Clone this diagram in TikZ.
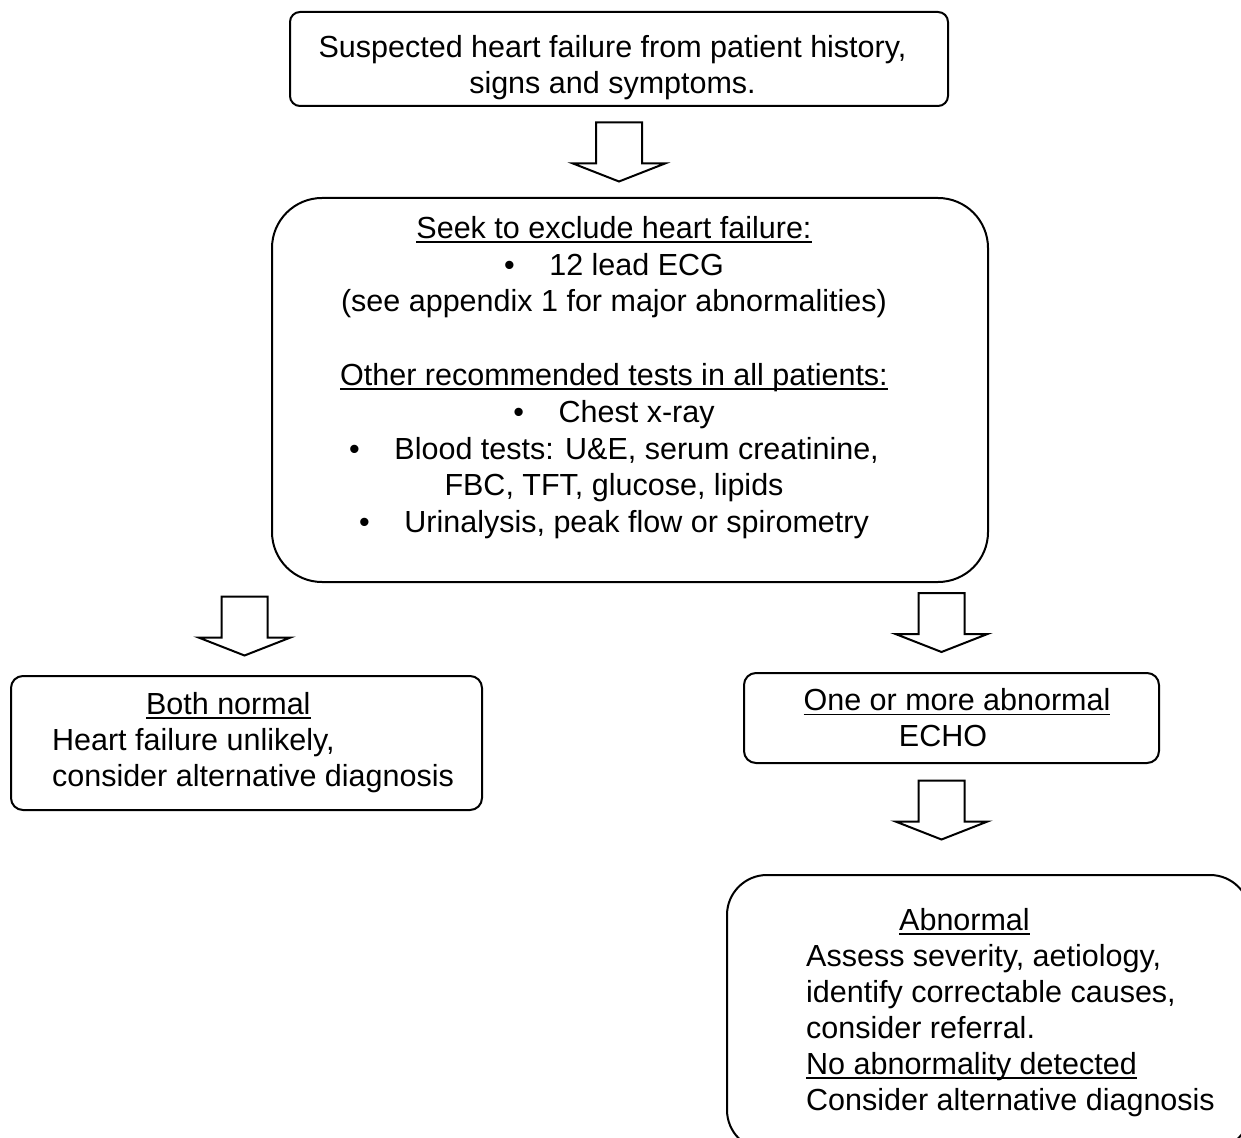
\documentclass[tikz,border=0pt]{standalone}
\usepackage{fontspec}
\setmainfont{Liberation Sans}
\usetikzlibrary{calc}

\newsavebox{\ulbox}
\newcommand{\undl}[1]{\sbox{\ulbox}{#1}\rlap{\rule[-2.2pt]{\wd\ulbox}{0.9pt}}\usebox{\ulbox}}
\newcommand{\bul}{\textbullet\hspace{17.3pt}}
\newcommand{\rsp}{\rule{16pt}{0pt}}

\begin{document}
\begin{tikzpicture}[x=0.5pt, y=-0.5pt,
    box/.style={draw, line width=1pt, inner sep=0pt,
      font=\fontsize{15.25}{18}\selectfont},
    blockarrow/.pic={
      \draw[line width=1pt] (-23,-29.5) -- (23,-29.5) -- (23,11.5) -- (46,11.5)
        -- (0,29.5) -- (-46,11.5) -- (-23,11.5) -- cycle;}]
  \useasboundingbox (0,0) rectangle (1241,1138);
  \clip (0,0) rectangle (1241,1138);

  % Boxes
  \node[box, rounded corners=5pt, minimum width=329pt, minimum height=47pt, align=center]
    (susp) at (619,59) {\rule{0pt}{20pt}Suspected heart failure from patient history,\rule{6.5pt}{0pt}\\
      signs and symptoms.\rule{6.5pt}{0pt}};

  \node[box, rounded corners=25pt, minimum width=358pt, minimum height=192pt, align=center,
    font=\fontsize{15.25}{18.4}\selectfont]
    (exclude) at (630,390) {\undl{Seek to exclude heart failure:}\rsp\\
      \bul 12 lead ECG\rsp\\
      (see appendix 1 for major abnormalities)\rsp\\[18.4pt]
      \undl{Other recommended tests in all patients:}\rsp\\
      \bul Chest x-ray\rsp\\
      \bul Blood tests: U\&E, serum creatinine,\rsp\\
      FBC, TFT, glucose, lipids\rsp\\
      \bul Urinalysis, peak flow or spirometry\rsp\rule[-15.5pt]{0pt}{0pt}};

  \node[box, rounded corners=6pt, minimum width=235.5pt, minimum height=67pt, align=left]
    (normal) at (246.5,743) {\hspace*{53.5pt}\undl{Both normal}\\
      \hspace*{6.5pt}Heart failure unlikely,\\
      \hspace*{6.5pt}consider alternative diagnosis};

  \node[box, rounded corners=6pt, minimum width=207.5pt, minimum height=45pt, align=center]
    (abnorm) at (951.5,718) {\rule{5.5pt}{0pt}\undl{One or more abnormal}\\ ECHO\rule{8.5pt}{0pt}};

  \node[box, rounded corners=20pt, minimum width=261.5pt, minimum height=137.5pt, align=left]
    (result) at (988.5,1012.5) {\hspace*{68.5pt}\undl{Abnormal}\\
      \hspace*{22pt}Assess severity, aetiology,\\
      \hspace*{22pt}identify correctable causes,\\
      \hspace*{22pt}consider referral.\\
      \hspace*{22pt}\undl{No abnormality detected}\\
      \hspace*{22pt}Consider alternative diagnosis};

  % Block arrows
  \pic at ($(susp.south)!0.5!(susp.south |- exclude.north)$) {blockarrow};
  \pic at ($(normal.north |- exclude.south)!0.5!(normal.north)+(-2,-3)$) {blockarrow};
  \pic at ($(abnorm.north |- exclude.south)!0.5!(abnorm.north)+(-10,-5)$) {blockarrow};
  \pic at ($(abnorm.south)!0.5!(abnorm.south |- result.north)+(-10,-9)$) {blockarrow};
\end{tikzpicture}
\end{document}
